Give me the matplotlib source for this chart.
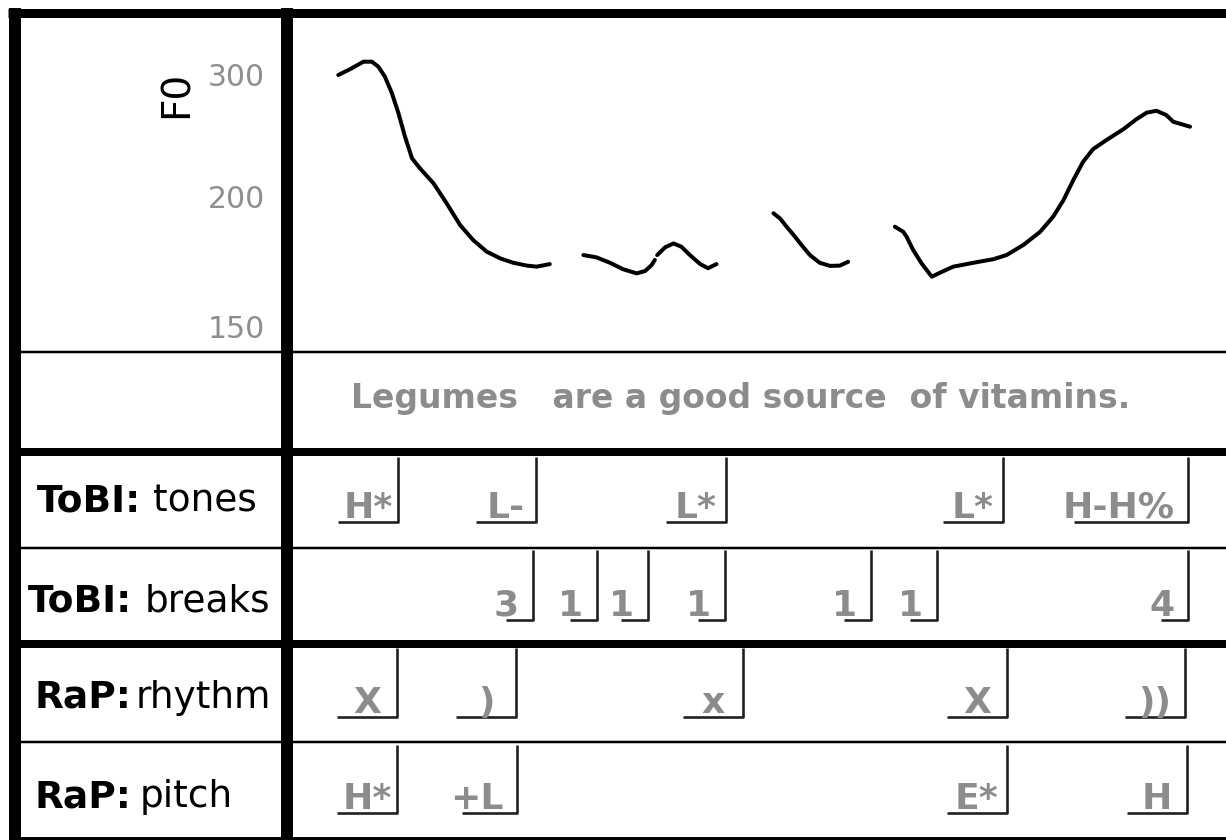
import matplotlib
matplotlib.use('Agg')
import matplotlib.pyplot as plt
import numpy as np

W, H = 1226, 840

# ---------------- data ----------------
# F0 contour (time in s, F0 in Hz), voiced stretches
seg1_t = [0.099, 0.124, 0.153, 0.171, 0.185, 0.199, 0.214, 0.228, 0.242, 0.257, 0.274,
          0.303, 0.331, 0.360, 0.388, 0.417, 0.446, 0.474, 0.503, 0.524, 0.552]
seg1_f = [300.0, 304.7, 310.9, 310.9, 306.8, 298.6, 285.0, 268.6, 249.4, 231.7, 223.5,
          211.2, 197.6, 189.1, 183.3, 178.8, 176.2, 174.5, 173.4, 173.0, 174.0]
seg2_t = [0.624, 0.652, 0.681, 0.709, 0.738, 0.756, 0.770, 0.777]
seg2_f = [177.5, 176.6, 174.5, 172.0, 170.4, 171.3, 173.6, 175.6]
seg3_t = [0.782, 0.799, 0.817, 0.834, 0.852, 0.874, 0.891, 0.909]
seg3_f = [177.5, 180.5, 182.0, 180.7, 177.5, 174.0, 172.4, 174.0]
seg4_t = [1.031, 1.045, 1.059, 1.074, 1.091, 1.109, 1.130, 1.152, 1.173, 1.191]
seg4_f = [193.7, 191.7, 188.5, 185.3, 181.4, 177.5, 174.5, 173.3, 173.4, 174.9]
seg5_t = [1.291, 1.309, 1.316, 1.330, 1.348, 1.370, 1.388, 1.416, 1.459, 1.502, 1.530,
          1.566, 1.602, 1.630, 1.652, 1.673, 1.694, 1.715, 1.744, 1.780, 1.808, 1.830,
          1.851, 1.872, 1.887, 1.923]
seg5_f = [188.5, 186.5, 184.6, 179.5, 174.3, 169.1, 170.7, 173.0, 174.5, 175.9, 177.5,
          181.4, 186.5, 192.4, 198.8, 213.9, 228.9, 239.1, 246.7, 255.5, 263.7, 269.1,
          270.7, 267.2, 261.7, 257.6]

f0_ticks = [150, 200, 300]
f0_tick_labels = ['150', '200', '300']

words = "Legumes   are a good source  of vitamins."
words_start = 0.126

tobi_tone_labels = ['H*', 'L-', 'L*', 'L*', 'H-H%']
tobi_tone_times = [0.227, 0.522, 0.929, 1.522, 1.919]
tobi_break_labels = ['3', '1', '1', '1', '1', '1', '4']
tobi_break_times = [0.516, 0.653, 0.762, 0.927, 1.240, 1.381, 1.919]
rap_rhythm_labels = ['X', ')', 'x', 'X', '))']
rap_rhythm_times = [0.225, 0.480, 0.966, 1.531, 1.912]
rap_pitch_labels = ['H*', '+L', 'E*', 'H']
rap_pitch_times = [0.225, 0.482, 1.531, 1.916]

tier_bold = ['ToBI:', 'ToBI:', 'RaP:', 'RaP:']
tier_plain = ['tones', 'breaks', 'rhythm', 'pitch']

# ---------------- style ----------------
PX = 0.72  # points per pixel at dpi 100
GRAY = '#8c8c8c'
LINE = '#1e1e1e'
T_MAX = 2.0

fig = plt.figure(figsize=(W / 100, H / 100), dpi=100)
fig.patch.set_facecolor('white')

# frame axes in pixel coordinates
axf = fig.add_axes([0, 0, 1, 1])
axf.set_xlim(0, W)
axf.set_ylim(H, 0)
axf.axis('off')

def hline(y, x0, x1, wpx):
    axf.plot([x0, x1], [y, y], color='black', lw=wpx * PX, solid_capstyle='butt')

def vline(x, y0, y1, wpx):
    axf.plot([x, x], [y0, y1], color='black', lw=wpx * PX, solid_capstyle='butt')

hline(12.5, 8, W, 9)
vline(15, 8, H, 12)
vline(286.5, 8, H, 12)
for y in (352, 548, 742):
    hline(y, 15, W, 2.5)
for y in (452, 644):
    hline(y, 15, W, 8)
hline(838, 15, W, 3)

axf.text(177, 94, 'F0', rotation=90, ha='center', va='center', fontsize=28, color='black')

# tier name labels
renderer = fig.canvas.get_renderer()
name_pos = [(37, 512, 12), (28, 611, 12), (35, 708, 4), (35, 807, 8)]
for (b, p), (x0, yb, gap) in zip(zip(tier_bold, tier_plain), name_pos):
    tb = axf.text(x0, yb, b, fontsize=27, fontweight='bold', color='black', ha='left', va='baseline')
    ext = tb.get_window_extent(renderer)
    axf.text(ext.x1 + gap, yb, p, fontsize=27, color='black', ha='left', va='baseline')

# F0 axes with the chart's non-uniform frequency scale
hz_knots = [100, 150, 200, 300, 400]
pos_knots = [-129, 0, 129, 251, 373]

def fwd(v):
    return np.interp(v, hz_knots, pos_knots)

def inv(v):
    return np.interp(v, pos_knots, hz_knots)

axp = fig.add_axes([292 / W, (H - 352) / H, 934 / W, 335 / H])
axp.set_yscale('function', functions=(fwd, inv))
axp.set_ylim(inv(-26), inv(309))
axp.set_xlim(0, T_MAX)
axp.patch.set_alpha(0)
for s in axp.spines.values():
    s.set_visible(False)
axp.set_xticks([])
axp.set_yticks(f0_ticks)
axp.set_yticklabels(f0_tick_labels)
axp.tick_params(axis='y', length=0, pad=27 * PX, labelsize=21.5, labelcolor='#8e8e8e')
axp.yaxis.set_minor_locator(matplotlib.ticker.NullLocator())
for t, f in [(seg1_t, seg1_f), (seg2_t, seg2_f), (seg3_t, seg3_f), (seg4_t, seg4_f), (seg5_t, seg5_f)]:
    axp.plot(t, f, color='black', lw=4 * PX, solid_capstyle='round', solid_joinstyle='round')

# tier axes: x in seconds, y in pixels
axt = fig.add_axes([292 / W, 0, 934 / W, 1])
axt.set_xlim(0, T_MAX)
axt.set_ylim(H, 0)
axt.axis('off')
px2t = T_MAX / 934.0

axt.text(words_start, 408, words, fontsize=23.8, fontweight='bold', color=GRAY,
         ha='left', va='baseline')

tiers = [
    (tobi_tone_labels, tobi_tone_times, 457, 522, 60),
    (tobi_break_labels, tobi_break_times, 550, 620, 33),
    (rap_rhythm_labels, rap_rhythm_times, 648, 717, 60),
    (rap_pitch_labels, rap_pitch_times, 745, 813, 60),
]
for labels, times, top, bot, ul in tiers:
    for lab, t in zip(labels, times):
        tx = axt.text(t - ul / 2 * px2t, bot - 4, lab, fontsize=26, fontweight='bold',
                      color=GRAY, ha='center', va='baseline')
        wpx = tx.get_window_extent(renderer).width
        left = t - ul * px2t
        if wpx + 8 > ul:
            tx.set_x(t - 14 * px2t)
            tx.set_ha('right')
            left = t - (14 + wpx - 12) * px2t
        axt.plot([left, t, t], [bot, bot, top], color=LINE, lw=2.6 * PX,
                 solid_joinstyle='round', solid_capstyle='butt')

fig.savefig('out.png', dpi=100, facecolor='white')
